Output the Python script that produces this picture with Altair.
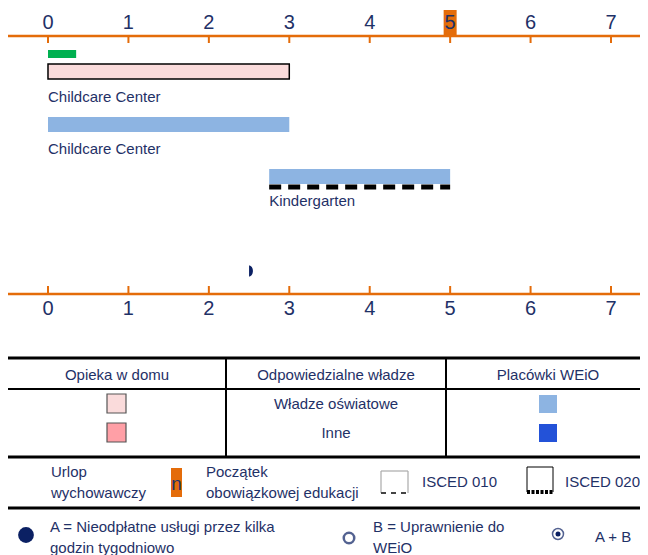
import altair as alt
import pandas as pd

# ---------------- data ----------------
ages = [0, 1, 2, 3, 4, 5, 6, 7]
compulsory_age = 5
leave_start = [0.0]
leave_end = [0.35]
home_label = ["Childcare Center"]
home_start = [0.0]
home_end = [3.0]
setting_labels = ["Childcare Center", "Kindergarten"]
setting_start = [0.0, 2.75]
setting_end = [3.0, 5.0]
isced020_start = [2.75]
isced020_end = [5.0]
entitlement_age = [2.5]

header_labels = ["Opieka w domu", "Odpowiedzialne władze", "Placówki WEiO"]
authority_labels = ["Władze oświatowe", "Inne"]

# ---------------- style ----------------
FONT = "Liberation Sans, Arial, sans-serif"
NAVY = "#1f3167"
DOT = "#0b2063"
ORANGE = "#e46c0a"
GREEN = "#00b050"
PINK1 = "#fadbdb"
PINK2 = "#ff9fa6"
BLUE1 = "#8db4e2"
BLUE2 = "#2352d8"
W, H = 632, 547
RIGHT = 8 + W


def px(v):
    return v - 8


def py(v):
    return v - 8


# pixel 48 -> age 0, pixel 611 -> age 7
PPY = (611 - 48) / 7.0
xscale = alt.Scale(domain=[-40 / PPY, (W - 40) / PPY], range=[0, W], nice=False, zero=False)
one = pd.DataFrame({"a": [0]})
layers = []


def X(field):
    return alt.X(field, type="quantitative", scale=xscale, axis=None)


def X2(field):
    return alt.X2(field)


def hrule(x1, x2, y, color="black", width=2, dash=None):
    kw = dict(color=color, strokeWidth=width)
    if dash:
        kw["strokeDash"] = dash
    return alt.Chart(one).mark_rule(**kw).encode(
        x=alt.value(px(x1)), x2=alt.value(px(x2)), y=alt.value(py(y)))


def vrule(x, y1, y2, color="black", width=2):
    return alt.Chart(one).mark_rule(color=color, strokeWidth=width).encode(
        x=alt.value(px(x)), y=alt.value(py(y1)), y2=alt.value(py(y2)))


def text(s, x, y, size=15, align="left", color=NAVY):
    return alt.Chart(one).mark_text(
        text=s, font=FONT, fontSize=size, align=align, baseline="middle",
        color=color, lineBreak="\n", lineHeight=21).encode(
        x=alt.value(px(x)), y=alt.value(py(y)))


def box(x1, x2, y1, y2, fill, stroke=None, sw=1):
    kw = dict(fill=fill)
    if stroke:
        kw.update(stroke=stroke, strokeWidth=sw)
    return alt.Chart(one).mark_rect(**kw).encode(
        x=alt.value(px(x1)), x2=alt.value(px(x2)),
        y=alt.value(py(y1)), y2=alt.value(py(y2)))


ticks_df = pd.DataFrame({"age": ages})

# ---- top axis ----
comp_df = pd.DataFrame({"age": [compulsory_age]})
layers.append(alt.Chart(comp_df).mark_point(
    shape="M-0.5,-1H0.5V1H-0.5Z", filled=True, opacity=1, color=ORANGE, size=676
).encode(x=X("age"), y=alt.value(py(23))))
layers.append(hrule(7, RIGHT, 36, ORANGE, 2.5))
layers.append(alt.Chart(ticks_df).mark_rule(color=ORANGE, strokeWidth=2).encode(
    x=X("age"), y=alt.value(py(36)), y2=alt.value(py(43))))
layers.append(alt.Chart(ticks_df).mark_text(
    font=FONT, fontSize=20, color=NAVY, baseline="middle").encode(
    x=X("age"), y=alt.value(py(23)), text="age:Q"))

# ---- parental leave ----
leave_df = pd.DataFrame({"s": leave_start, "e": leave_end})
layers.append(alt.Chart(leave_df).mark_rect(color=GREEN).encode(
    x=X("s"), x2=X2("e"), y=alt.value(py(50)), y2=alt.value(py(58))))

# ---- home-based care ----
home_df = pd.DataFrame({"s": home_start, "e": home_end, "label": home_label})
layers.append(alt.Chart(home_df).mark_rect(fill=PINK1, stroke="black", strokeWidth=1.5).encode(
    x=X("s"), x2=X2("e"), y=alt.value(py(64)), y2=alt.value(py(79))))
layers.append(alt.Chart(home_df).mark_text(
    font=FONT, fontSize=15, color=NAVY, align="left", baseline="middle").encode(
    x=X("s"), y=alt.value(py(97)), text="label:N"))

# ---- ECEC settings ----
row_top = [117, 169]
for i in range(len(setting_labels)):
    d = pd.DataFrame({"s": [setting_start[i]], "e": [setting_end[i]],
                      "label": [setting_labels[i]]})
    layers.append(alt.Chart(d).mark_rect(fill=BLUE1).encode(
        x=X("s"), x2=X2("e"), y=alt.value(py(row_top[i])),
        y2=alt.value(py(row_top[i] + 15))))
    layers.append(alt.Chart(d).mark_text(
        font=FONT, fontSize=15, color=NAVY, align="left", baseline="middle").encode(
        x=X("s"), y=alt.value(py(row_top[i] + 32)), text="label:N"))

# ISCED 020 dashed marker
isc_df = pd.DataFrame({"s": isced020_start, "e": isced020_end})
layers.append(alt.Chart(isc_df).mark_rule(color="black", strokeWidth=5,
                                          strokeDash=[12, 7]).encode(
    x=X("s"), x2=X2("e"), y=alt.value(py(187))))

# entitlement marker (half circle)
ent_df = pd.DataFrame({"age": entitlement_age})
layers.append(alt.Chart(ent_df).mark_point(
    shape="M0,-1A0.7,1 0 0 1 0,1Z", filled=True, opacity=1, color=DOT, size=121
).encode(x=X("age"), y=alt.value(py(271))))

# ---- bottom axis ----
layers.append(hrule(7, RIGHT, 294, ORANGE, 2.5))
layers.append(alt.Chart(ticks_df).mark_rule(color=ORANGE, strokeWidth=2).encode(
    x=X("age"), y=alt.value(py(286)), y2=alt.value(py(294))))
layers.append(alt.Chart(ticks_df).mark_text(
    font=FONT, fontSize=20, color=NAVY, baseline="middle").encode(
    x=X("age"), y=alt.value(py(309)), text="age:Q"))

# ---- legend table ----
layers.append(hrule(8, RIGHT, 358, "black", 3))
layers.append(hrule(8, RIGHT, 389, "black", 2))
layers.append(vrule(226, 358, 457))
layers.append(vrule(446, 358, 457))
layers.append(hrule(8, RIGHT, 457, "black", 3))
layers.append(hrule(8, RIGHT, 508, "black", 3))

for lbl, cx in zip(header_labels, [117, 336, 548]):
    layers.append(text(lbl, cx, 375, 15, "center"))
for lbl, cy in zip(authority_labels, [404, 433]):
    layers.append(text(lbl, 336, cy, 15, "center"))

layers.append(box(107, 126, 394, 413, PINK1, "#555555", 1.2))
layers.append(box(107, 126, 423, 442, PINK2, "#555555", 1.2))
layers.append(box(539, 557, 395, 413, BLUE1))
layers.append(box(539, 557, 424, 442, BLUE2))

# second legend row
layers.append(text("Urlop\nwychowawczy", 51, 472, 15))
layers.append(box(171, 182, 468, 497, ORANGE))
layers.append(text("n", 176.5, 484, 19, "center"))
layers.append(text("Początek\nobowiązkowej edukacji", 206, 472, 15))

# ISCED 010 icon
layers.append(hrule(381, 408, 471, "#aaaaaa", 1.2))
layers.append(vrule(381, 471, 493, "#aaaaaa", 1.2))
layers.append(vrule(408, 471, 493, "#aaaaaa", 1.2))
layers.append(hrule(381, 408, 493, "#444444", 2, [5, 5]))
layers.append(text("ISCED 010", 422, 482, 15))
# ISCED 020 icon
layers.append(hrule(527, 553, 467, "black", 1))
layers.append(vrule(527, 467, 492, "black", 1))
layers.append(vrule(553, 467, 492, "black", 1))
layers.append(hrule(527, 553, 492, "black", 4, [3, 1.5]))
layers.append(text("ISCED 020", 565, 482, 15))

# third legend row
layers.append(alt.Chart(one).mark_point(filled=True, color=DOT, opacity=1, size=250).encode(
    x=alt.value(px(26)), y=alt.value(py(535))))
layers.append(text("A = Nieodpłatne usługi przez kilka\ngodzin tygodniowo", 50, 527, 15))
layers.append(alt.Chart(one).mark_point(filled=False, color=DOT, strokeWidth=2.5, size=110).encode(
    x=alt.value(px(349)), y=alt.value(py(538))))
layers.append(text("B = Uprawnienie do\nWEiO", 373, 527, 15))
layers.append(alt.Chart(one).mark_point(filled=False, color=DOT, strokeWidth=1.5, size=120).encode(
    x=alt.value(px(558)), y=alt.value(py(534))))
layers.append(alt.Chart(one).mark_point(filled=True, color=DOT, opacity=1, size=25).encode(
    x=alt.value(px(558)), y=alt.value(py(534))))
layers.append(text("A + B", 595, 537, 15))

chart = alt.layer(*layers).properties(
    width=W, height=H, autosize=alt.AutoSizeParams(type="none"), padding=0
).configure_view(stroke=None)

chart.save("out.html", embed_options={"renderer": "svg", "actions": False})
